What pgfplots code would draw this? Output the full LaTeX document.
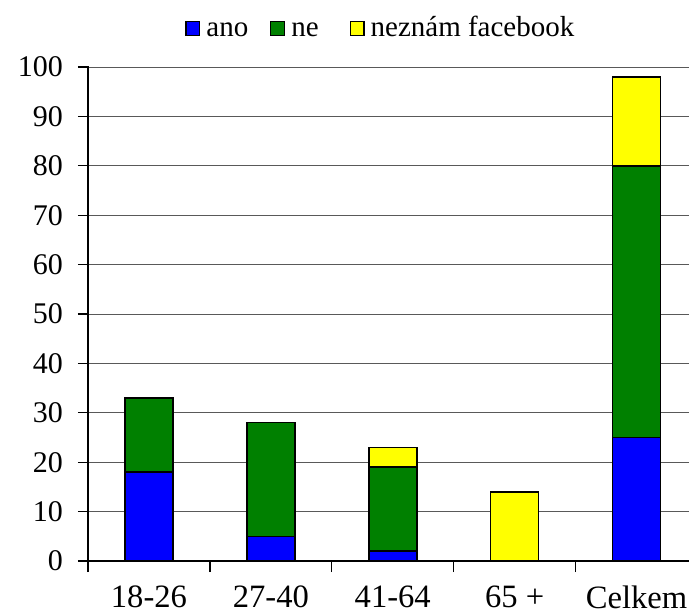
\documentclass[border=0pt]{standalone}
\usepackage{fontspec}
\setmainfont{Liberation Serif}
\usepackage{pgfplots}
\pgfplotsset{compat=1.18}
\definecolor{cano}{RGB}{0,0,255}
\definecolor{cne}{RGB}{0,128,0}
\definecolor{cnez}{RGB}{255,255,0}
\begin{document}
\begin{tikzpicture}
\begin{axis}[
 at={(0,0)}, anchor=south west,
 scale only axis, width=300.5pt, height=247pt,
 ybar stacked, bar width=24pt,
 xmin=-0.5, xmax=4.43, ymin=0, ymax=100,
 axis x line*=bottom, axis y line*=left, axis line style={-, black, line width=0.6pt},
 ytick={0,10,...,100},
 ymajorgrids, grid style={black!65, line width=0.5pt},
 tick style={black, line width=0.6pt},
 tick align=outside, major tick length=5.5pt,
 y tick style={xshift=0.5pt},
 /pgf/number format/assume math mode=true,
 yticklabel style={font=\fontsize{15}{17}\selectfont, xshift=-3.5pt},
 xtick={-0.5,0.5,1.5,2.5,3.5}, xticklabels={},
 extra x ticks={0,1,2,3,4},
 extra x tick labels={18-26,27-40,41-64,65 +,Celkem},
 extra x tick style={major tick length=0pt, grid=none,
   xticklabel style={font=\fontsize{16.3}{18}\selectfont, yshift=-9pt}},
 legend columns=3,
 legend style={draw=none, fill=none, inner sep=0pt, at={(rel axis cs:0,1)}, anchor=south west,
   xshift=48.5pt, yshift=12.8pt,
   font=\fontsize{14.5}{17}\selectfont, nodes={inner xsep=3pt, inner ysep=1pt},
   cells={anchor=base west},
   column sep=0pt,
   /tikz/column 2/.style={column sep=8pt},
   /tikz/column 4/.style={column sep=12.5pt}},
 legend image code/.code={\draw[#1, draw=black, line width=0.6pt] (0.3pt,0.3pt) rectangle (7.2pt,7.2pt);},
 every axis plot/.append style={draw=black, line width=0.75pt},
]
\addplot[fill=cano] coordinates {(0,18) (1,5) (2,2) (3,0) (4,25)};
\addplot[fill=cne] coordinates {(0,15) (1,23) (2,17) (3,0) (4,55)};
\addplot[fill=cnez] coordinates {(0,0) (1,0) (2,4) (3,14) (4,18)};
\legend{ano,ne,neznám facebook}
\end{axis}
\pgfresetboundingbox
\path[use as bounding box] (-44pt,-25.5pt) rectangle (300.5pt,280.5pt);
\end{tikzpicture}
\end{document}
